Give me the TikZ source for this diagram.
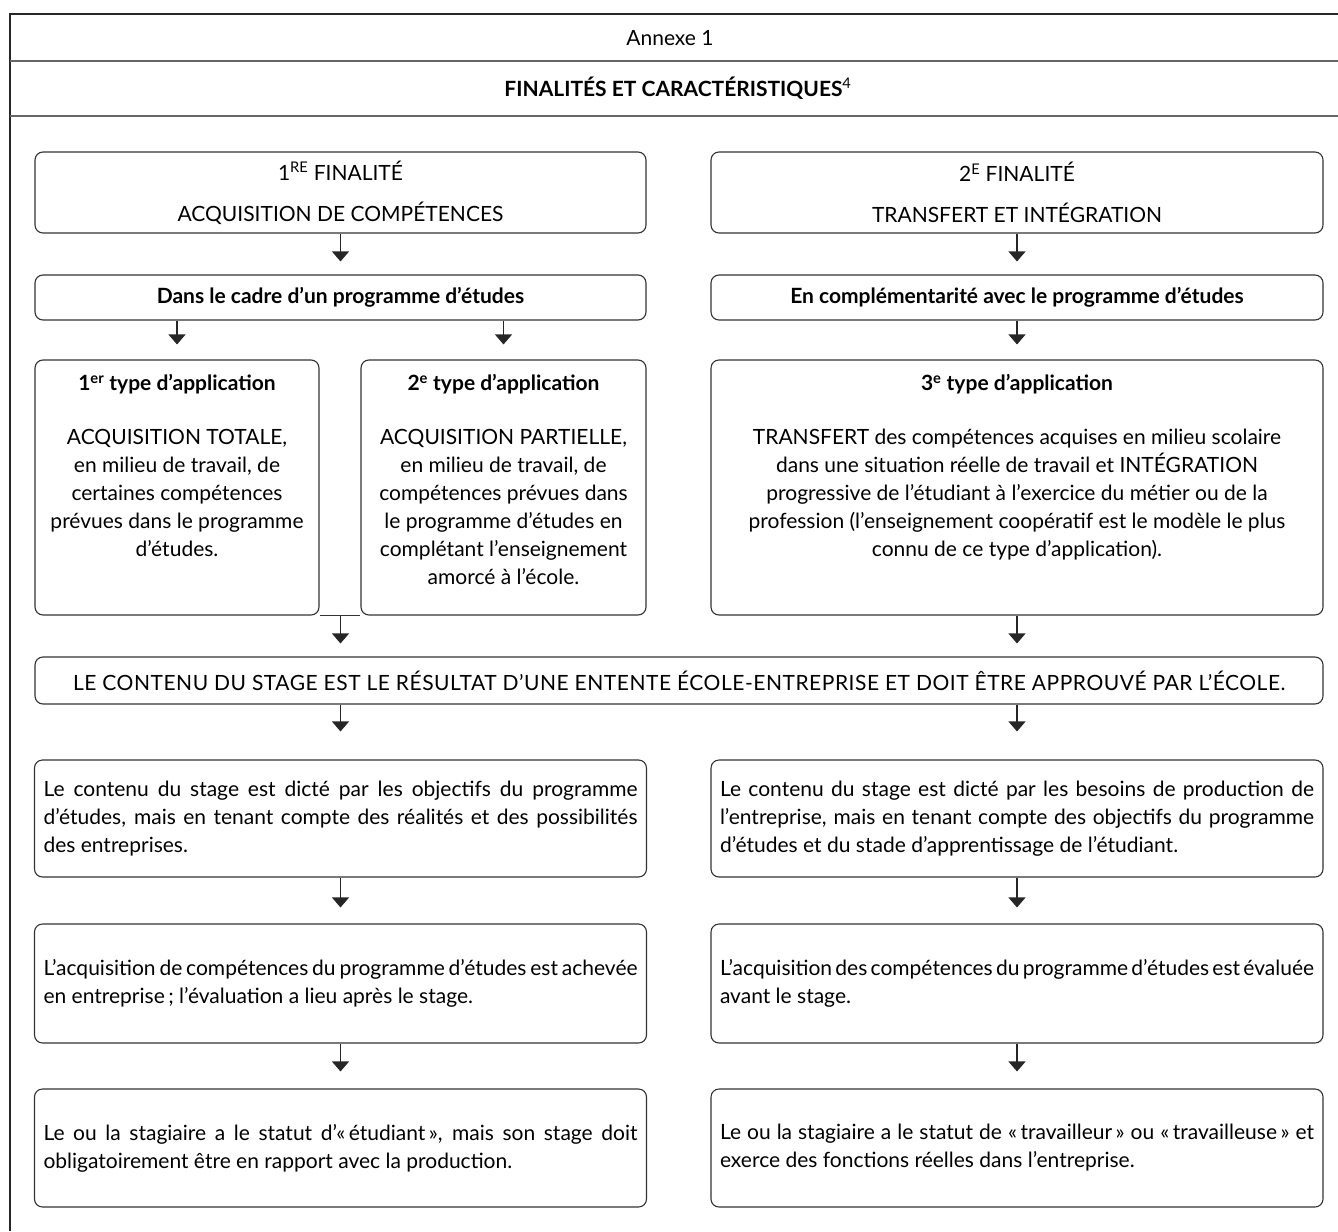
\documentclass[tikz,border=0pt]{standalone}
\usepackage{fontspec}
\setmainfont{Lato}
\usetikzlibrary{arrows.meta,positioning}
\newcommand\fullline[1]{\hbox to \hsize{\spaceskip=0.15em plus 1fil\relax #1}}

\begin{document}
\begin{tikzpicture}[x=1pt,y=-1pt,
  box/.style={draw=black!80,line width=1.1pt,rounded corners=8pt,inner sep=0pt,align=center,font=\fontsize{21}{28}\selectfont},
  lrbox/.style={box,text width=594pt,inner xsep=9pt,align=justify},
  txt/.style={inner sep=0pt,align=center,font=\fontsize{21}{28}\selectfont},
  arr/.style={-{Triangle[width=17pt,length=10pt]},line width=1.1pt,black!85},
  rule/.style={line width=1.2pt,black!60}]
\useasboundingbox (0,0) rectangle (1338,1231);
\draw[line width=2.6pt,black!85] (1338,14) -- (10,14) -- (10,1231);
\draw[rule] (10,61) -- (1338,61);
\draw[rule] (10,116) -- (1338,116);
\node[txt] (annexe) at (670,38) {Annexe 1};
\node[txt] (titre) at (678,88) {\textbf{FINALITÉS ET CARACTÉRISTIQUES}\textsuperscript{4}};

\node[box,minimum width=611pt,minimum height=81pt] (F1) at (340.5,192.5) {1\textsuperscript{RE} FINALITÉ\\[13pt]ACQUISITION DE COMPÉTENCES};
\node[box,minimum width=612pt,minimum height=81pt] (F2) at (1017,192.5) {2\textsuperscript{E} FINALITÉ\\[13pt]TRANSFERT ET INTÉGRATION};
\node[box,minimum width=611pt,minimum height=45pt] (C1) at (340.5,297.5) {\textbf{Dans le cadre d’un programme d’études}};
\node[box,minimum width=612pt,minimum height=45pt] (C2) at (1017,297.5) {\textbf{En complémentarité avec le programme d’études}};

\node[box,minimum width=284pt,minimum height=255pt] (T1) at (177,487.5) {};
\node[box,minimum width=285pt,minimum height=255pt] (T2) at (503.5,487.5) {};
\node[box,minimum width=612pt,minimum height=255pt] (T3) at (1017,487.5) {};
\node[txt,below=15pt of T1.north] (T1txt) {\textbf{1\textsuperscript{er} type d’application}\\[26pt]ACQUISITION TOTALE,\\en milieu de travail, de\\certaines compétences\\prévues dans le programme\\d’études.};
\node[txt,below=15pt of T2.north] (T2txt) {\textbf{2\textsuperscript{e} type d’application}\\[26pt]ACQUISITION PARTIELLE,\\en milieu de travail, de\\compétences prévues dans\\le programme d’études en\\complétant l’enseignement\\amorcé à l’école.};
\node[txt,below=15pt of T3.north] (T3txt) {\textbf{3\textsuperscript{e} type d’application}\\[26pt]TRANSFERT des compétences acquises en milieu scolaire\\dans une situation réelle de travail et INTÉGRATION\\progressive de l’étudiant à l’exercice du métier ou de la\\profession (l’enseignement coopératif est le modèle le plus\\connu de ce type d’application).};

\node[box,minimum width=1288pt,minimum height=47pt] (E) at (679,680.5) {\addfontfeatures{LetterSpace=2.5}LE CONTENU DU STAGE EST LE RÉSULTAT D’UNE ENTENTE ÉCOLE-ENTREPRISE ET DOIT ÊTRE APPROUVÉ PAR L’ÉCOLE.};

\node[lrbox,minimum height=117pt] (L1) at (340.5,818.5) {Le contenu du stage est dicté par les objectifs du programme\linebreak d’études, mais en tenant compte des réalités et des possibilités\linebreak des entreprises.};
\node[lrbox,minimum height=117pt] (R1) at (1017,818.5) {Le contenu du stage est dicté par les besoins de production de\linebreak l’entreprise, mais en tenant compte des objectifs du programme\linebreak d’études et du stade d’apprentissage de l’étudiant.};
\node[lrbox,minimum height=119pt] (L2) at (340.5,983.5) {\fullline{L’acquisition de compétences du programme d’études est achevée}\\en entreprise\,; l’évaluation a lieu après le stage.};
\node[lrbox,minimum height=119pt] (R2) at (1017,983.5) {\fullline{L’acquisition des compétences du programme d’études est évaluée}\\avant le stage.};
\node[lrbox,minimum height=118pt] (L3) at (340.5,1148) {Le ou la stagiaire a le statut d’«\,étudiant\,», mais son stage doit\linebreak obligatoirement être en rapport avec la production.};
\node[lrbox,minimum height=118pt] (R3) at (1017,1148) {Le ou la stagiaire a le statut de «\,travailleur\,» ou «\,travailleuse\,» et\linebreak exerce des fonctions réelles dans l’entreprise.};

\draw[arr,shorten >=13pt] (F1) -- (C1);
\draw[arr,shorten >=13pt] (F2) -- (C2);
\draw[arr,shorten >=15pt] (C1.south -| T1.north) -- (T1.north);
\draw[arr,shorten >=15pt] (C1.south -| T2.north) -- (T2.north);
\draw[arr,shorten >=15pt] (C2) -- (T3);
\draw[line width=1.1pt,black!80] (T1.south east) -- (T2.south west);
\draw[arr,shorten >=13pt] (T1.south east -| L1.north) -- (E.north -| L1.north);
\draw[arr,shorten >=13pt] (T3.south) -- (E.north -| T3.south);
\draw[arr,shorten >=28pt] (E.south -| L1.north) -- (L1.north);
\draw[arr,shorten >=28pt] (E.south -| R1.north) -- (R1.north);
\draw[arr,shorten >=16pt] (L1) -- (L2);
\draw[arr,shorten >=16pt] (R1) -- (R2);
\draw[arr,shorten >=17pt] (L2) -- (L3);
\draw[arr,shorten >=17pt] (R2) -- (R3);
\end{tikzpicture}
\end{document}
